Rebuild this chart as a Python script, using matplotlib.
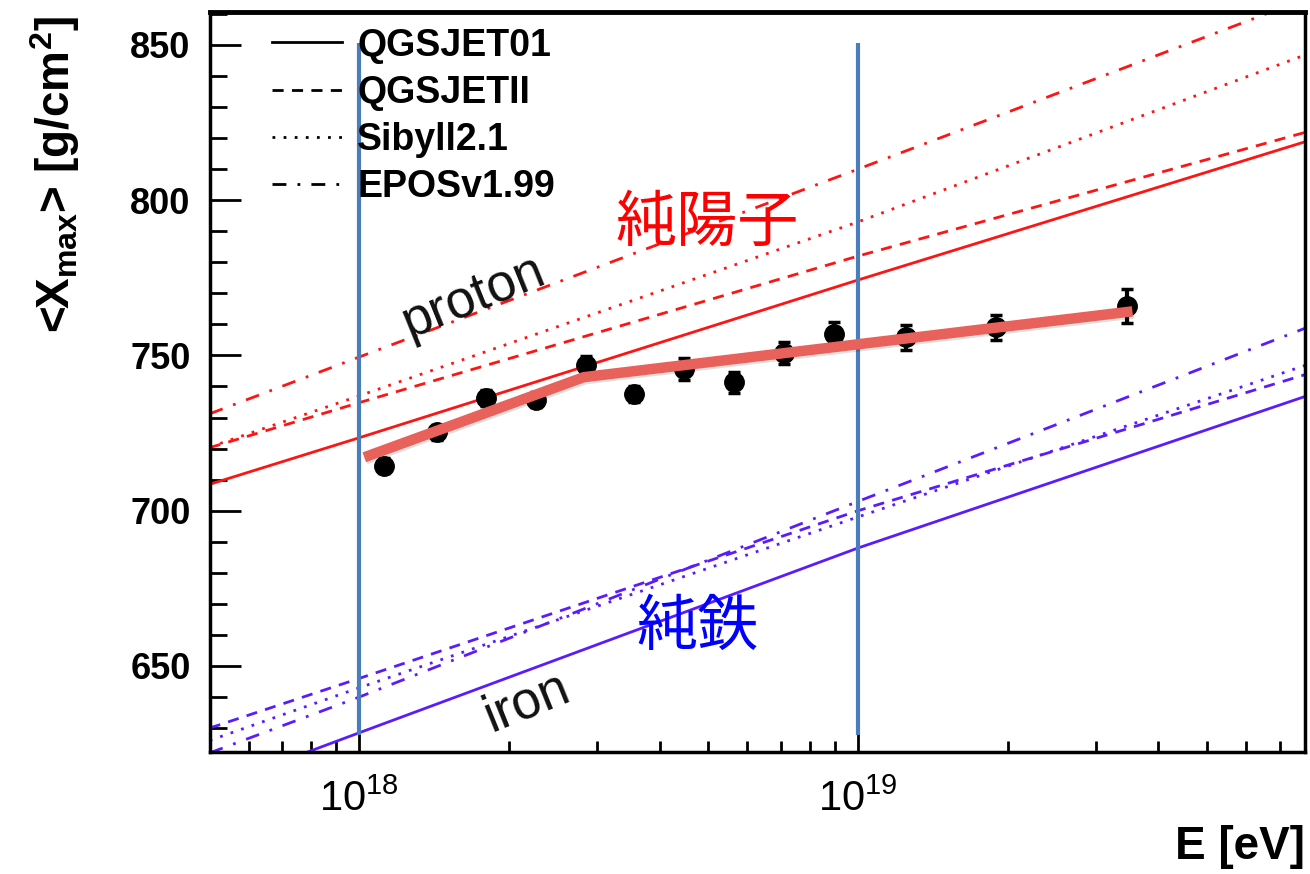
import matplotlib
matplotlib.use("Agg")
import matplotlib.pyplot as plt
import matplotlib.patheffects as pe
from matplotlib.lines import Line2D
from matplotlib.ticker import LogLocator, NullFormatter, MultipleLocator
import numpy as np

plt.rcParams['font.family'] = ['Liberation Sans', 'DejaVu Sans']
plt.rcParams['mathtext.fontset'] = 'custom'
plt.rcParams['mathtext.rm'] = 'Liberation Sans'
plt.rcParams['mathtext.bf'] = 'Liberation Sans:bold'

# model curves: log10(E/eV) sample points and <Xmax> in g/cm2
lg_model = [17.70, 18.0, 19.0, 19.9]
p_qgs01 = [708.5, 723.5, 774.3, 819.0]
p_qgs2 = [720.3, 734.8, 782.0, 822.0]
p_sib = [720.5, 737.0, 793.0, 847.0]
p_epos = [731.2, 749.5, 810.0, 865.0]
fe_qgs01 = [610.5, 628.5, 688.0, 737.0]
fe_qgs2 = [630.0, 646.0, 700.0, 744.0]
fe_sib = [626.0, 643.0, 698.0, 747.0]
fe_epos = [622.0, 640.0, 703.0, 759.0]

# measured points
lg_data = [18.05, 18.156, 18.254, 18.355, 18.455, 18.551, 18.651,
           18.752, 18.852, 18.952, 19.096, 19.276, 19.539]
xmax_data = [714.5, 725.2, 736.3, 735.8, 746.8, 737.6, 745.6,
             741.3, 750.9, 756.9, 755.8, 759.0, 766.0]
xmax_err = [2.5, 2.5, 2.5, 2.5, 3.0, 2.5, 3.5, 3.5, 3.5, 4.0, 4.0, 4.0, 5.5]

# hand drawn broken line
lg_fit = [18.01, 18.45, 19.55]
xmax_fit = [717.2, 743.0, 764.2]

# marked energy range
lg_marks = [18.0, 19.0]
mark_lo, mark_hi = 627.8, 850.5

model_labels = ['QGSJET01', 'QGSJETII', 'Sibyll2.1', 'EPOSv1.99']
styles = ['-', (0, (4, 3)), (0, (1, 3)), (0, (5, 4, 1, 4))]

red = '#ff1414'
blue = '#5a1cff'

E_model = 10 ** np.array(lg_model)
E_data = 10 ** np.array(lg_data)
E_fit = 10 ** np.array(lg_fit)

fig = plt.figure(figsize=(13.1, 8.74), dpi=100)
ax = fig.add_axes([0.1603, 0.1396, 0.8359, 0.8467])

for vals, ls in zip([p_qgs01, p_qgs2, p_sib, p_epos], styles):
    ax.plot(E_model, vals, color=red, lw=2, linestyle=ls)
for vals, ls in zip([fe_qgs01, fe_qgs2, fe_sib, fe_epos], styles):
    ax.plot(E_model, vals, color=blue, lw=2, linestyle=ls)

ax.vlines(10 ** np.array(lg_marks), mark_lo, mark_hi, color='#4a7ebb', lw=3, zorder=3)

ax.errorbar(E_data, xmax_data, yerr=xmax_err, fmt='o', color='black', ms=14,
            elinewidth=3, capsize=4, capthick=2.5, zorder=4)

ax.plot(E_fit, xmax_fit, color='#e8615a', lw=7.5, solid_capstyle='butt', zorder=5,
        path_effects=[pe.SimpleLineShadow(offset=(1, -1.5), alpha=0.12), pe.Normal()])

ax.set_xscale('log')
ax.set_xlim(5.02e17, 7.87e19)
ax.set_ylim(622.3, 860.6)

ax.xaxis.set_major_locator(LogLocator(base=10))
ax.xaxis.set_minor_locator(LogLocator(base=10, subs=np.arange(2, 10)))
ax.xaxis.set_minor_formatter(NullFormatter())
ax.yaxis.set_major_locator(MultipleLocator(50))
ax.yaxis.set_minor_locator(MultipleLocator(10))

ax.tick_params(axis='y', which='major', direction='in', length=22, width=2,
               labelsize=26, pad=14)
ax.tick_params(axis='y', which='minor', direction='in', length=12, width=2)
ax.tick_params(axis='x', which='major', direction='in', length=14, width=2,
               labelsize=30, pad=20)
ax.tick_params(axis='x', which='minor', direction='in', length=8, width=2)
for lab in ax.get_yticklabels():
    lab.set_fontweight('bold')
for s in ax.spines.values():
    s.set_linewidth(2.5)
ax.spines['top'].set_linewidth(3.5)

handles = [Line2D([], [], color='black', lw=2, linestyle=ls) for ls in styles]
leg = ax.legend(handles, model_labels, loc='upper left', bbox_to_anchor=(0.0566, 0.979),
                frameon=False, borderaxespad=0, borderpad=0,
                handlelength=1.87, handletextpad=0.4, labelspacing=0.3,
                prop={'family': 'Liberation Sans', 'weight': 'bold', 'size': 27})

ax.text(10 ** 18.23, 768.9, 'proton', fontsize=38, rotation=22, color='#111111',
        ha='center', va='center')
ax.text(10 ** 18.335, 638.4, 'iron', fontsize=38, rotation=22, color='#111111',
        ha='center', va='center')
ax.text(10 ** 18.697, 792.3, '純陽子', fontsize=44, color='#ff0000',
        family=['Noto Sans CJK JP', 'DejaVu Sans'], ha='center', va='center')
ax.text(10 ** 18.679, 662.2, '純鉄', fontsize=44, color='#0000ff',
        family=['Noto Sans CJK JP', 'DejaVu Sans'], ha='center', va='center')

fig.text(0.042, 0.80, r'<X$_{\mathbf{max}}$> [g/cm$^{\mathbf{2}}$]', rotation=90,
         fontsize=33, fontweight='bold', ha='center', va='center')
fig.text(0.996, 0.031, 'E [eV]', fontsize=33, fontweight='bold', ha='right', va='center')

fig.savefig('out.png', dpi=100)
